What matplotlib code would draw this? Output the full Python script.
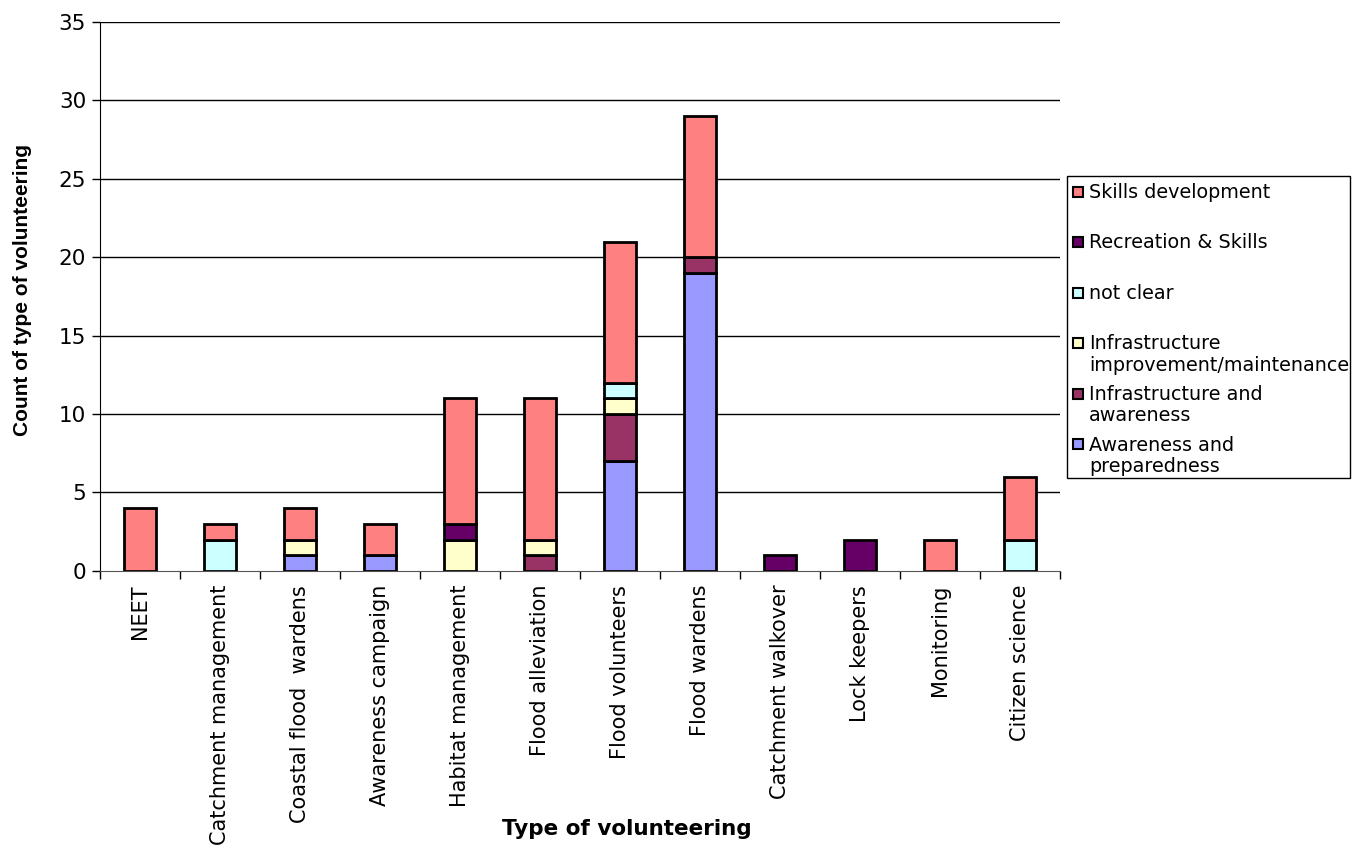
import matplotlib.pyplot as plt
import matplotlib.patches as mpatches
import numpy as np

categories = ["NEET", "Catchment management", "Coastal flood  wardens",
              "Awareness campaign", "Habitat management", "Flood alleviation",
              "Flood volunteers", "Flood wardens", "Catchment walkover",
              "Lock keepers", "Monitoring", "Citizen science"]

# stacked from the bottom up
awareness_prep = [0, 0, 1, 1, 0, 0, 7, 19, 0, 0, 0, 0]
infra_awareness = [0, 0, 0, 0, 0, 1, 3, 1, 0, 0, 0, 0]
infra_improve = [0, 0, 1, 0, 2, 1, 1, 0, 0, 0, 0, 0]
not_clear = [0, 2, 0, 0, 0, 0, 1, 0, 0, 0, 0, 2]
recreation = [0, 0, 0, 0, 1, 0, 0, 0, 1, 2, 0, 0]
skills = [4, 1, 2, 2, 8, 9, 9, 9, 0, 0, 2, 4]

series = [
    ("Awareness and\npreparedness", awareness_prep, "#9999FF"),
    ("Infrastructure and\nawareness", infra_awareness, "#993366"),
    ("Infrastructure\nimprovement/maintenance", infra_improve, "#FFFFCC"),
    ("not clear", not_clear, "#CCFFFF"),
    ("Recreation & Skills", recreation, "#660066"),
    ("Skills development", skills, "#FF8080"),
]

fig = plt.figure(figsize=(13.62, 8.47), dpi=100)
ax = fig.add_axes([0.0734, 0.326, 0.7048, 0.648])

x = np.arange(len(categories))
bottom = np.zeros(len(categories))
for name, vals, col in series:
    vals = np.array(vals, dtype=float)
    mask = vals > 0
    ax.bar(x[mask], vals[mask], 0.4, bottom=bottom[mask], color=col,
           edgecolor="black", linewidth=2, zorder=3)
    bottom += vals

ax.set_xlim(-0.5, len(categories) - 0.5)
ax.set_ylim(0, 35)
ax.set_yticks(range(0, 36, 5))
ax.tick_params(axis="y", labelsize=15.5, length=6, width=1, pad=4)
for y in range(5, 36, 5):
    ax.axhline(y, color="black", linewidth=1, zorder=1)

# Excel style: tick marks between categories, labels in the middle
ax.set_xticks(np.arange(-0.5, len(categories), 1))
ax.set_xticklabels([])
ax.tick_params(axis="x", which="major", length=6, width=1, direction="out")
ax.set_xticks(x, minor=True)
ax.set_xticklabels(categories, minor=True, rotation=90, fontsize=15)
ax.tick_params(axis="x", which="minor", length=0, pad=10)

for s in ["top", "right"]:
    ax.spines[s].set_visible(False)
ax.spines["left"].set_color("black")
ax.spines["bottom"].set_color("#555555")

ax.set_ylabel("Count of type of volunteering", fontsize=15, fontweight="bold",
              family="Liberation Sans")
ax.yaxis.set_label_coords(-0.071, 0.512)
ax.set_xlabel("Type of volunteering", fontsize=15.5, fontweight="bold")
ax.xaxis.set_label_coords(0.549, -0.452)

# legend drawn by hand so each entry sits on an even pitch
W, H = fig.get_size_inches() * fig.dpi
lx, ly_top, lw, lh = 1067, 176, 283, 302
fig.patches.append(mpatches.Rectangle((lx / W, 1 - (ly_top + lh) / H), lw / W, lh / H,
                                      transform=fig.transFigure, facecolor="white",
                                      edgecolor="black", linewidth=1))
for i, (name, vals, col) in enumerate(series[::-1]):
    ty = ly_top + 7 + i * 50.5
    fig.patches.append(mpatches.Rectangle(((lx + 6) / W, 1 - (ty + 14) / H),
                                          10 / W, 10 / H, transform=fig.transFigure,
                                          facecolor=col, edgecolor="black", linewidth=1.5))
    fig.text((lx + 22) / W, 1 - ty / H, name, fontsize=13.8, va="top", ha="left",
             linespacing=1.15)

fig.savefig("out.png", dpi=100)
